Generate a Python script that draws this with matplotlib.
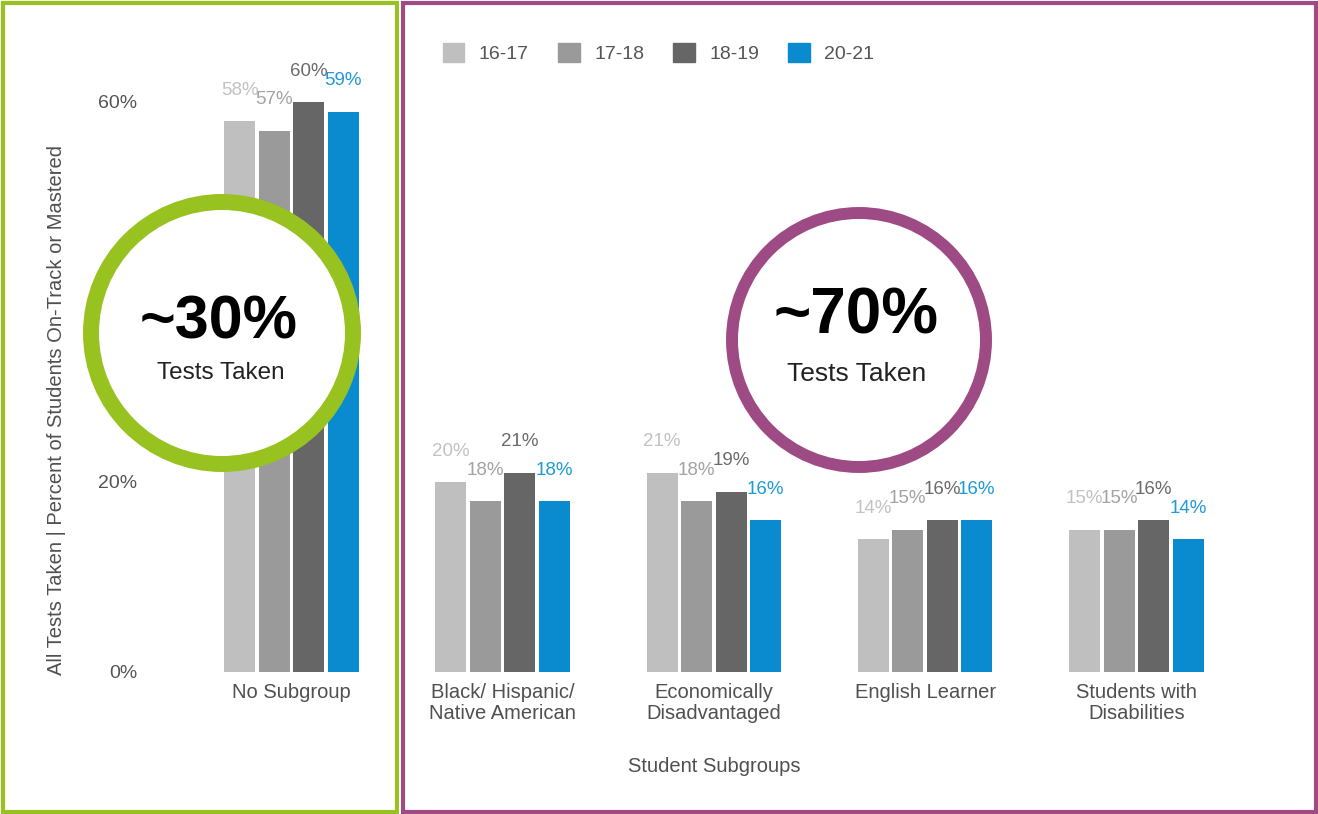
import matplotlib
matplotlib.use("Agg")
import matplotlib.pyplot as plt
from matplotlib.patches import Rectangle, Circle
import numpy as np

plt.rcParams['font.family'] = ['Liberation Sans', 'DejaVu Sans']

categories = ["No Subgroup", "Black/ Hispanic/\nNative American", "Economically\nDisadvantaged",
              "English Learner", "Students with\nDisabilities"]
years = ["16-17", "17-18", "18-19", "20-21"]
v_1617 = [58, 20, 21, 14, 15]
v_1718 = [57, 18, 18, 15, 15]
v_1819 = [60, 21, 19, 16, 16]
v_2021 = [59, 18, 16, 16, 14]
series = [v_1617, v_1718, v_1819, v_2021]
y_ticks = [0, 20, 40, 60]

bar_colors = ["#bfbfbf", "#9a9a9a", "#666666", "#0a8bd0"]
label_colors = ["#c2c2c2", "#a3a3a3", "#6b6b6b", "#1f9ad8"]
W, H = 1318, 814

fig = plt.figure(figsize=(W / 100, H / 100), dpi=100)

# main bar axes, placed in pixel terms
left_px, right_px, top_px, bot_px = 185.9, 1241.9, 45, 672
ax = fig.add_axes([left_px / W, (H - bot_px) / H, (right_px - left_px) / W, (bot_px - top_px) / H])
x = np.arange(len(categories))
step, width = 0.1634, 0.147
for j, vals in enumerate(series):
    pos = x + (j - 1.5) * step
    bars = ax.bar(pos, vals, width, color=bar_colors[j], label=years[j], zorder=2)
    for xp, v in zip(pos, vals):
        ax.annotate(f"{v}%", (xp, v), xytext=(0, 22), textcoords="offset points",
                    ha="center", va="center", fontsize=13.5, color=label_colors[j])

ax.set_xlim(-0.5, 4.5)
ax.set_ylim(0, 66)
ax.set_yticks(y_ticks)
ax.set_yticklabels([f"{t}%" for t in y_ticks])
ax.set_xticks(x)
ax.set_xticklabels(categories, linespacing=1.15)
ax.tick_params(axis="y", length=0, pad=35, labelsize=14, labelcolor="#555555")
ax.tick_params(axis="x", length=0, pad=8, labelsize=14.5, labelcolor="#505050")
for s in ax.spines.values():
    s.set_visible(False)

fig.text(57 / W, 1 - 410 / H, "All Tests Taken | Percent of Students On-Track or Mastered",
         rotation=90, ha="center", va="center", fontsize=14.5, color="#505050")
fig.text(714 / W, 1 - 766 / H, "Student Subgroups", ha="center", va="center",
         fontsize=14.5, color="#505050")

handles = [Rectangle((0, 0), 1, 1, color=c) for c in bar_colors]
fig.legend(handles, years, loc="center left", bbox_to_anchor=(443 / W, 1 - 53 / H), ncol=4,
           frameon=False, fontsize=14, handlelength=1.1, handleheight=1.1, handletextpad=0.75,
           columnspacing=1.5, borderpad=0, borderaxespad=0, labelcolor="#555555")

# overlay: panel boxes and circles
ov = fig.add_axes([0, 0, 1, 1], zorder=5)
ov.set_xlim(0, W)
ov.set_ylim(H, 0)
ov.axis("off")
ov.patch.set_alpha(0)
green, purple = "#98c21f", "#9e4a84"
ov.add_patch(Rectangle((3, 3), 394, 809, fill=False, ec=green, lw=3))
ov.add_patch(Rectangle((403, 3), 913, 809, fill=False, ec=purple, lw=3))
ov.add_patch(Circle((222, 333), 131, fc="white", ec=green, lw=11.5))
ov.add_patch(Circle((859, 340), 127, fc="white", ec=purple, lw=8.6))
ov.text(219, 323, "~30%", ha="center", va="center", fontsize=44, fontweight="bold", color="black")
ov.text(221, 373, "Tests Taken", ha="center", va="center", fontsize=17.5, color="#222222")
ov.text(856, 317, "~70%", ha="center", va="center", fontsize=46, fontweight="bold", color="black")
ov.text(857, 374, "Tests Taken", ha="center", va="center", fontsize=19, color="#222222")

fig.savefig("out.png", dpi=100)
